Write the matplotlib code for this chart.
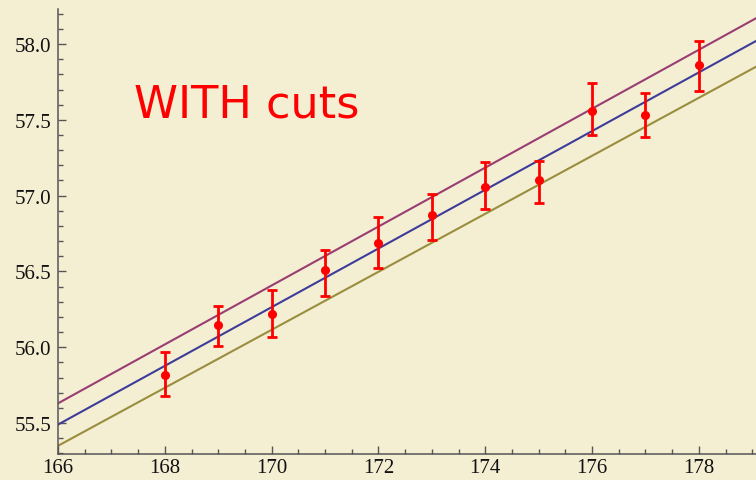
import matplotlib.pyplot as plt
from matplotlib.ticker import MultipleLocator

# ── Data ───────────────────────────────────────────────────────────────────────
mass   = [168, 169, 170, 171, 172, 173, 174, 175, 176, 177, 178]
value  = [55.82, 56.15, 56.22, 56.51, 56.69, 56.87, 57.06, 57.10, 57.56, 57.53, 57.86]
lower  = [55.68, 56.01, 56.07, 56.34, 56.52, 56.71, 56.91, 56.95, 57.40, 57.39, 57.69]
upper  = [55.97, 56.27, 56.38, 56.64, 56.86, 57.01, 57.22, 57.23, 57.74, 57.68, 58.02]

line_x      = [166, 179.07]
line_top    = [55.63, 58.17]
line_mid    = [55.49, 58.02]
line_bottom = [55.35, 57.85]

# ── Style ──────────────────────────────────────────────────────────────────────
BG       = "#f4eed3"
C_TOP    = (0.60, 0.24, 0.45)
C_MID    = (0.24, 0.24, 0.60)
C_BOTTOM = (0.60, 0.556, 0.24)
C_AXIS   = "#555555"

fig = plt.figure(figsize=(7.56, 4.81), dpi=100)
fig.patch.set_facecolor(BG)
ax = fig.add_axes([58 / 756, 26 / 481, 698 / 756, 445 / 481])
ax.set_facecolor(BG)

ax.plot(line_x, line_top, color=C_TOP, lw=1.5)
ax.plot(line_x, line_mid, color=C_MID, lw=1.5)
ax.plot(line_x, line_bottom, color=C_BOTTOM, lw=1.5)

err_lo = [v - l for v, l in zip(value, lower)]
err_hi = [u - v for v, u in zip(value, upper)]
ax.errorbar(mass, value, yerr=[err_lo, err_hi], fmt="o", color="red",
            ms=5.5, elinewidth=2, capsize=3.8, capthick=2, zorder=5)

ax.text(167.42, 57.525, "WITH cuts", color="red", fontsize=32,
        family="DejaVu Sans", va="baseline", ha="left")

ax.set_xlim(166, 179.07)
ax.set_ylim(55.296, 58.231)

ax.xaxis.set_major_locator(MultipleLocator(2))
ax.xaxis.set_minor_locator(MultipleLocator(0.5))
ax.yaxis.set_major_locator(MultipleLocator(0.5))
ax.yaxis.set_minor_locator(MultipleLocator(0.1))
ax.yaxis.set_major_formatter(plt.FuncFormatter(lambda v, _: f"{v:.1f}"))

for side in ("top", "right"):
    ax.spines[side].set_visible(False)
for side in ("left", "bottom"):
    ax.spines[side].set_color(C_AXIS)
    ax.spines[side].set_linewidth(1.1)

ax.tick_params(which="both", direction="in", color=C_AXIS, width=1,
               labelsize=15, labelcolor="#111111")
ax.tick_params(which="major", length=6)
ax.tick_params(which="minor", length=3.5)
for lbl in ax.get_xticklabels() + ax.get_yticklabels():
    lbl.set_family("Liberation Serif")
ax.tick_params(axis="y", pad=5)
ax.tick_params(axis="x", pad=3)

fig.savefig("out.png", dpi=100, facecolor=BG)
